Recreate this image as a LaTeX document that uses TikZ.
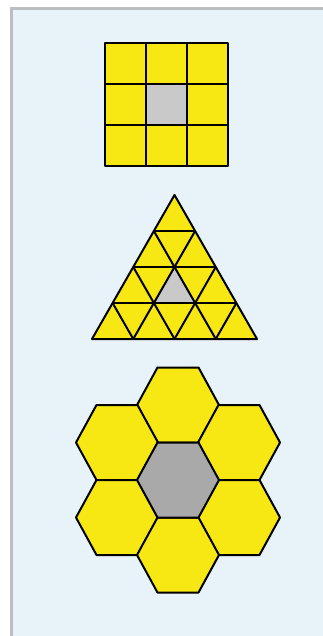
\documentclass[tikz,border=0pt]{standalone}
\definecolor{bgblue}{HTML}{E7F3F8}
\definecolor{framegray}{HTML}{BBBEC0}
\definecolor{tileyellow}{HTML}{F7E814}
\definecolor{lightgray}{HTML}{C9C9C9}
\definecolor{hexgray}{HTML}{A9A9A9}
\newcommand\hexat[3]{\draw[tile,fill=#3] ({#1+41},{#2}) -- ({#1+20.5},{#2-37.5}) -- ({#1-20.5},{#2-37.5}) -- ({#1-41},{#2}) -- ({#1-20.5},{#2+37.5}) -- ({#1+20.5},{#2+37.5}) -- cycle;}
\begin{document}
\begin{tikzpicture}[x=1pt,y=-1pt,
  tile/.style={draw=black,line width=2pt,line join=round}]
\useasboundingbox (0,0) rectangle (323,636);
\fill[white] (0,0) rectangle (323,636);
\fill[framegray] (10,7) rectangle (323,636);
\fill[bgblue] (13,10) rectangle (323,636);
% square grid
\fill[tileyellow] (105,43) rectangle (228,166);
\fill[lightgray] (146,84) rectangle (187,125);
\draw[tile] (105,43) rectangle (228,166);
\draw[tile] (146,43) -- (146,166) (187,43) -- (187,166) (105,84) -- (228,84) (105,125) -- (228,125);
% triangle grid
\foreach \i in {0,...,4}{\foreach \j in {0,...,\i}{\coordinate (t\i\j) at ({174.5+(\j-\i/2)*41.25},{195+\i*36});}}
\fill[tileyellow] (t00) -- (t40) -- (t44) -- cycle;
\fill[lightgray] (t21) -- (t31) -- (t32) -- cycle;
\foreach \k in {1,2,3}{
  \pgfmathtruncatemacro{\m}{4-\k}
  \draw[tile] (t\k0) -- (t\k\k);
  \draw[tile] (t\k\k) -- (t4\k);
  \draw[tile] (t\k0) -- (t4\m);
}
\draw[tile] (t00) -- (t40) -- (t44) -- cycle;
% hexagons
\hexat{178}{405}{tileyellow}
\hexat{117}{442.5}{tileyellow}
\hexat{239}{442.5}{tileyellow}
\hexat{117}{517.5}{tileyellow}
\hexat{239}{517.5}{tileyellow}
\hexat{178}{555}{tileyellow}
\hexat{178}{480}{hexgray}
\end{tikzpicture}
\end{document}
